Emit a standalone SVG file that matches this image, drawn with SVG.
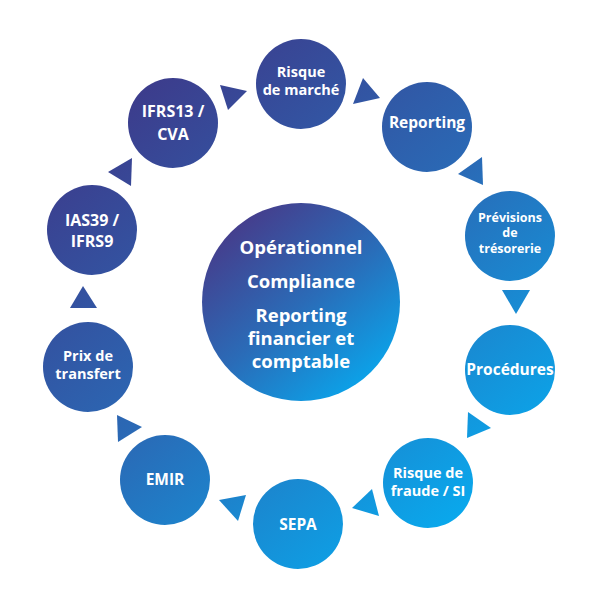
<svg xmlns="http://www.w3.org/2000/svg" width="600" height="600" viewBox="0 0 600 600">
<defs>
<linearGradient id="g" gradientUnits="userSpaceOnUse" x1="120" y1="90" x2="470" y2="520">
<stop offset="0" stop-color="#3d3a8a"/>
<stop offset="0.5" stop-color="#2a6ab6"/>
<stop offset="1" stop-color="#08aaee"/>
</linearGradient>
<linearGradient id="gc" x1="0.15" y1="0.1" x2="0.85" y2="0.95">
<stop offset="0" stop-color="#463c8b"/>
<stop offset="0.5" stop-color="#2a6cb8"/>
<stop offset="1" stop-color="#08a8ee"/>
</linearGradient>
<style>
.n{fill:url(#g)}
.t{font-family:"Open Sans","Liberation Sans",sans-serif;font-weight:700;fill:#fff;text-anchor:middle;font-size:14.5px}
.m{font-size:15.5px}
.s{font-size:12.5px}
.b{font-size:16px}
.c{font-size:18.5px}
.a{fill:url(#g)}
</style>
</defs>
<g id="center">
<circle cx="301" cy="302" r="99" fill="url(#gc)"/>
<text class="t c" x="301" y="254">Opérationnel</text>
<text class="t c" x="301" y="288">Compliance</text>
<text class="t c" x="301" y="322">Reporting</text>
<text class="t c" x="301" y="345">financier et</text>
<text class="t c" x="301" y="368">comptable</text>
</g>
<g id="risque-marche">
<circle class="n" cx="301" cy="84" r="45"/>
<text class="t" x="301" y="77">Risque</text>
<text class="t" x="301" y="95">de marché</text>
</g>
<g id="reporting">
<circle class="n" cx="427" cy="127" r="45"/>
<text class="t m" x="427" y="128">Reporting</text>
</g>
<g id="previsions">
<circle class="n" cx="510" cy="236" r="45"/>
<text class="t s" x="510" y="221.5">Prévisions</text>
<text class="t s" x="510" y="237">de</text>
<text class="t s" x="510" y="252.5">trésorerie</text>
</g>
<g id="procedures">
<circle class="n" cx="510" cy="370" r="45"/>
<text class="t m" x="510" y="375">Procédures</text>
</g>
<g id="fraude">
<circle class="n" cx="428" cy="483" r="45"/>
<text class="t" x="428" y="478">Risque de</text>
<text class="t" x="428" y="496">fraude / SI</text>
</g>
<g id="sepa">
<circle class="n" cx="298" cy="524" r="45"/>
<text class="t m" x="298" y="530">SEPA</text>
</g>
<g id="emir">
<circle class="n" cx="165" cy="480" r="45"/>
<text class="t m" x="165" y="485">EMIR</text>
</g>
<g id="prix-transfert">
<circle class="n" cx="88" cy="367" r="45"/>
<text class="t" x="88" y="361">Prix de</text>
<text class="t" x="88" y="379">transfert</text>
</g>
<g id="ias39">
<circle class="n" cx="92" cy="230" r="45"/>
<text class="t b" x="92" y="226">IAS39 /</text>
<text class="t b" x="92" y="247">IFRS9</text>
</g>
<g id="ifrs13">
<circle class="n" cx="173" cy="123" r="45"/>
<text class="t b" x="173" y="117">IFRS13 /</text>
<text class="t b" x="173" y="140">CVA</text>
</g>
<g id="connectors">
<polygon class="a" points="363,78 380,98 353,104"/>
<polygon class="a" points="482,157 458,174 483,185"/>
<polygon class="a" points="502,290 530,290 516,314"/>
<polygon class="a" points="468,412 491,428 467,438"/>
<polygon class="a" points="372,489 352,508 379,516"/>
<polygon class="a" points="219,500 246,495 238,521"/>
<polygon class="a" points="117,415 142,427 118,442"/>
<polygon class="a" points="70,308 97,308 83,286"/>
<polygon class="a" points="132,158 108,172 131,186"/>
<polygon class="a" points="220,85 247,91 228,110"/>
</g>
</svg>
